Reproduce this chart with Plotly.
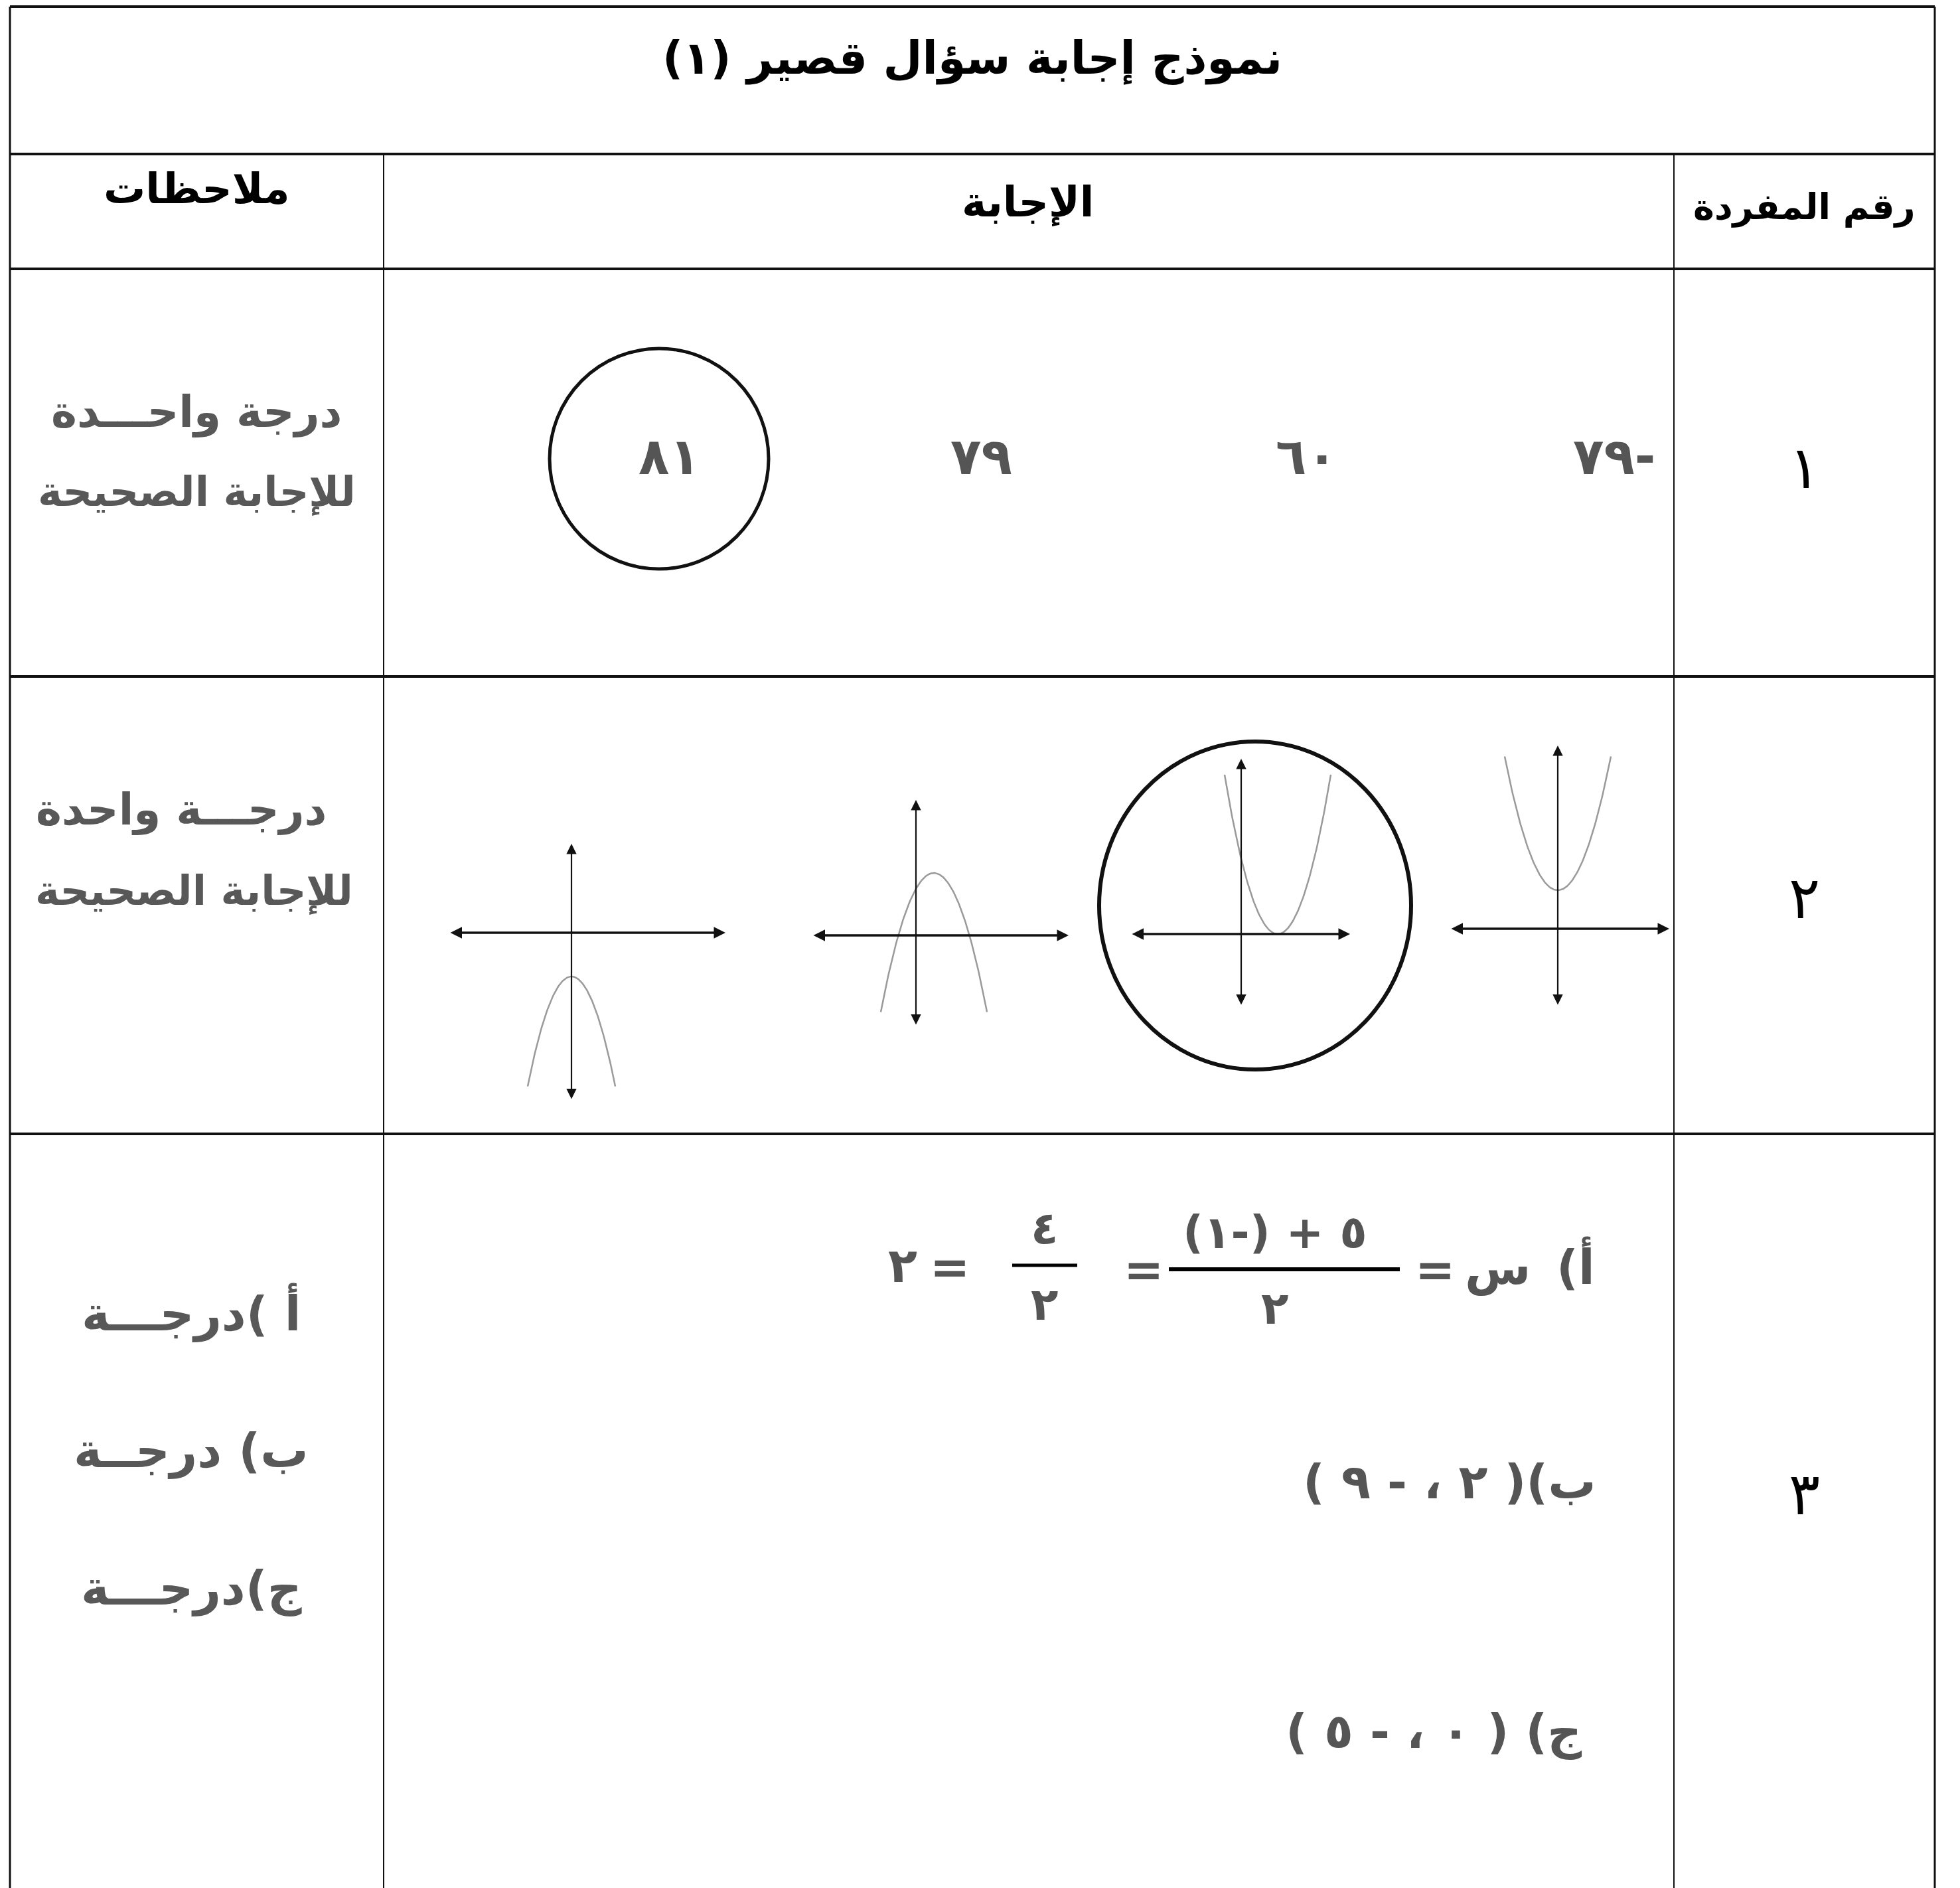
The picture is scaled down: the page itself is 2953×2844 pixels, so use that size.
import numpy as np
import plotly.graph_objects as go

W, H = 2953, 2844
OFF = 8  # the page body margin shifts the figure by 8 px
RLE, PDF = '\u202b', '\u202c'
FONT = 'DejaVu Sans'

# ---- content ----
title_text = 'نموذج إجابة سؤال قصير (١)'
header_labels = ['رقم المفردة', 'الإجابة', 'ملاحظات']
item_numbers = ['١', '٢', '٣']

q1_choices = ['-٧٩', '٦٠', '٧٩', '٨١']
q1_answer = 3

# q2 choices drawn as parabolas y = a (x - h)^2 + k
q2_a = [1.26, 1.5, -1.31, -1.52]
q2_h = [0.0, 1.375, 0.675, 0.0]
q2_k = [1.45, 0.0, 2.35, -1.65]
q2_halfwidth = [2.0, 2.0, 2.0, 1.65]
q2_answer = 1
axis_labels = ['س', '-س', 'ص', '-ص']

q3a_parts = ['أ)', 'س', '=', '٥ + (-١)', '٢', '=', '٤', '٢', '=', '٢']
q3b_text = 'ب)( ٢ ، - ٩ )'
q3c_text = 'ج) ( ٠ ، - ٥ )'

notes_q1 = ['درجة واحـــدة', 'للإجابة الصحيحة']
notes_q2 = ['درجـــة واحدة', 'للإجابة الصحيحة']
notes_q3 = ['أ )درجـــة', 'ب) درجــة', 'ج)درجـــة']


def rtl(s):
    return RLE + s + PDF


# ---- table geometry (pixels) ----
X_L, X_R, Y_T = 15, 2915, 10
ROW_Y = [232, 405, 1019, 1708]
COL_X = [578, 2522]
NUM_X, ANS_X, NOTE_X = 2718, 1548, 296

fig = go.Figure()
annotations = []
shapes = []


def txt(x, y, s, size, color='#000', bold=False, xanchor='center', ref=('x', 'y')):
    annotations.append(dict(
        x=x, y=y, xref=ref[0], yref=ref[1], text=rtl(s), showarrow=False,
        xanchor=xanchor, yanchor='middle',
        font=dict(family=FONT, size=size, color=color, weight='bold' if bold else 'normal')))


def line(x0, y0, x1, y1, w=3, color='#111'):
    shapes.append(dict(type='line', xref='x', yref='y', x0=x0, y0=y0, x1=x1, y1=y1,
                       line=dict(color=color, width=w)))


# table lines
line(X_L, Y_T, X_R, Y_T, 4)
line(X_L, Y_T, X_L, H + OFF, 3)
line(X_R, Y_T, X_R, H + OFF, 3)
for yy in ROW_Y:
    line(X_L, yy, X_R, yy, 4)
for xx in COL_X:
    line(xx, ROW_Y[0], xx, H + OFF, 2)

# title & headers
txt(1465, 88, title_text, 68, bold=True)
txt(NUM_X, 311, header_labels[0], 54, bold=True)
txt(ANS_X, 305, header_labels[1], 63, bold=True)
txt(NOTE_X, 284, header_labels[2], 63, bold=True)

# item numbers
for s, yy in zip(item_numbers, [704, 1352, 2250]):
    txt(NUM_X, yy, s, 88)

# question 1
q1_x = [2432, 1968, 1478, 1008]
for i, (s, xx) in enumerate(zip(q1_choices, q1_x)):
    txt(xx, 687, s, 76, color='#555', bold=True)
shapes.append(dict(type='circle', xref='x', yref='y',
                   x0=q1_x[q1_answer] - 180, x1=q1_x[q1_answer] + 150, y0=691 - 166, y1=691 + 166,
                   line=dict(color='#111', width=5)))

# notes
GREY = '#585858'
txt(NOTE_X, 621, notes_q1[0], 66, GREY, True)
txt(NOTE_X, 740, notes_q1[1], 62, GREY, True)
txt(273, 1220, notes_q2[0], 66, GREY, True)
txt(292, 1341, notes_q2[1], 62, GREY, True)
for s, yy in zip(notes_q3, [1977, 2185, 2392]):
    txt(NOTE_X - 8, yy, s, 72, GREY, True)

# question 3
F = '#555'
lbl, var, eq1, num1, den1, eq2, num2, den2, eq3, res = q3a_parts
txt(2405, 1906, lbl, 72, F, True, xanchor='right')
txt(2256, 1910, var, 72, F, True)
txt(2162, 1912, eq1, 72, F, True)
txt(1921, 1856, num1, 68, F, True)
line(1761, 1912, 2109, 1912, 6, '#000')
txt(1921, 1970, den1, 68, F, True)
txt(1723, 1912, eq2, 72, F, True)
txt(1574, 1850, num2, 68, F, True)
line(1525, 1906, 1623, 1906, 5, '#000')
txt(1574, 1964, den2, 68, F, True)
txt(1431, 1908, eq3, 72, F, True)
txt(1360, 1906, res, 72, F, True)
txt(2407, 2232, q3b_text, 72, F, True, xanchor='right')
txt(2385, 2608, q3c_text, 72, F, True, xanchor='right')

# question 2: mini graphs, each with its own axes
U = 40.0
origins = [(2347, 1399), (1870, 1407), (1380, 1409), (861, 1405)]
extents = [(-4.05, 4.2, -2.9, 6.9), (-4.15, 4.1, -2.7, 6.6),
           (-3.9, 5.75, -3.4, 5.1), (-4.6, 5.8, -6.3, 3.35)]

layout_axes = {}
for i in range(4):
    ox, oy = origins[i]
    xmin, xmax, ymin, ymax = extents[i]
    n = i + 2
    xa, ya = f'x{n}', f'y{n}'
    dx = [(ox + xmin * U - OFF) / W, (ox + xmax * U - OFF) / W]
    dy = [1 - (oy - ymin * U - OFF) / H, 1 - (oy - ymax * U - OFF) / H]
    layout_axes[f'xaxis{n}'] = dict(domain=dx, range=[xmin, xmax], visible=False, anchor=ya)
    layout_axes[f'yaxis{n}'] = dict(domain=dy, range=[ymin, ymax], visible=False, anchor=xa)

    xs = np.linspace(q2_h[i] - q2_halfwidth[i], q2_h[i] + q2_halfwidth[i], 120)
    ys = q2_a[i] * (xs - q2_h[i]) ** 2 + q2_k[i]
    fig.add_trace(go.Scatter(x=xs, y=ys, xaxis=xa, yaxis=ya, mode='lines',
                             line=dict(color='#9a9a9a', width=2.5), hoverinfo='skip',
                             showlegend=False))
    # axes with arrows at both ends
    for (x0, y0, x1, y1, w) in [(xmin, 0, xmax, 0, 3.5), (0, ymin, 0, ymax, 2.2)]:
        annotations.append(dict(x=x1, y=y1, ax=x0, ay=y0,
                                xref=xa, yref=ya, axref=xa, ayref=ya, text='',
                                showarrow=True, arrowhead=2, arrowside='end+start',
                                arrowsize=1.0 if w > 3 else 1.4, arrowwidth=w, arrowcolor='#111'))
    lab_font = 20
    txt(xmax + 0.35, 0, axis_labels[0], lab_font, '#222', ref=(xa, ya))
    txt(xmin - 0.45, 0, axis_labels[1], lab_font, '#222', ref=(xa, ya))
    txt(0, ymax + 0.35, axis_labels[2], lab_font, '#222', ref=(xa, ya))
    txt(0, ymin - 0.4, axis_labels[3], lab_font, '#222', ref=(xa, ya))

cx, cy = origins[q2_answer]
shapes.append(dict(type='circle', xref='x', yref='y',
                   x0=cx + 21 - 235, x1=cx + 21 + 235, y0=cy - 43 - 247, y1=cy - 43 + 247,
                   line=dict(color='#111', width=6)))

fig.update_layout(
    width=W, height=H, margin=dict(l=0, r=0, t=0, b=0),
    paper_bgcolor='white', plot_bgcolor='white',
    xaxis=dict(range=[OFF, W + OFF], visible=False, domain=[0, 1]),
    yaxis=dict(range=[H + OFF, OFF], visible=False, domain=[0, 1]),
    shapes=shapes, annotations=annotations, showlegend=False,
    **layout_axes
)

fig.write_html('out.html')
